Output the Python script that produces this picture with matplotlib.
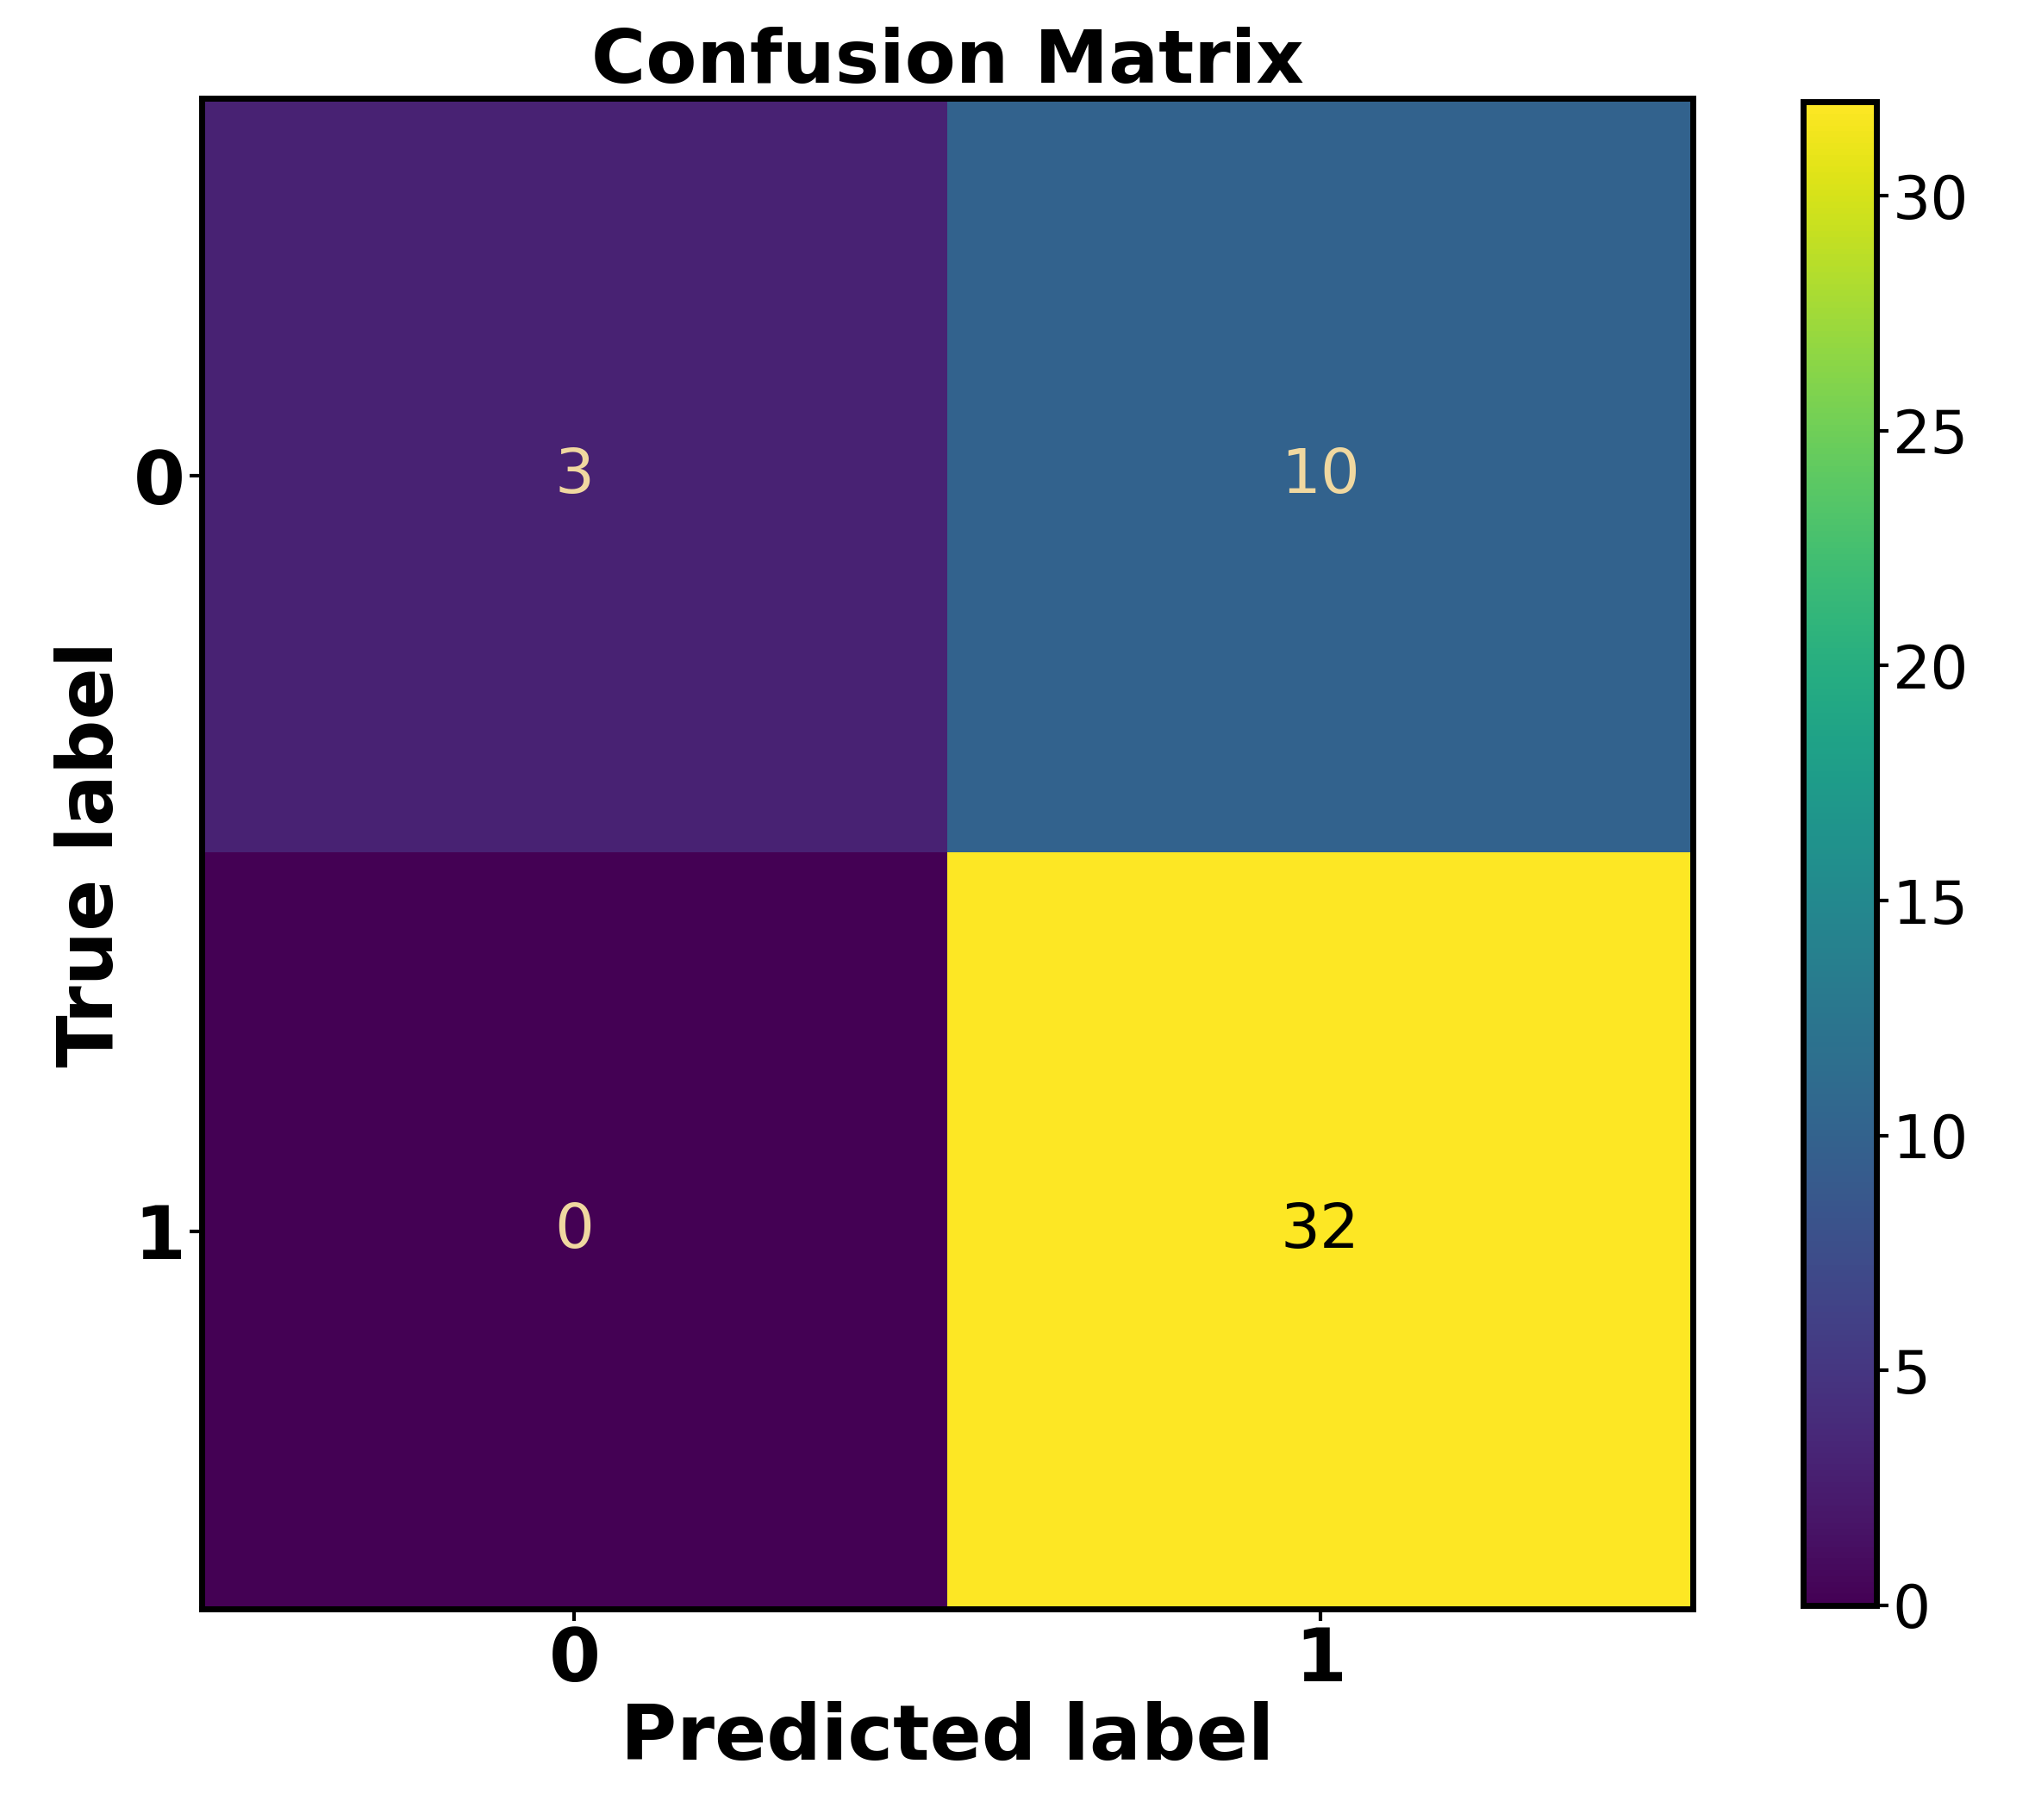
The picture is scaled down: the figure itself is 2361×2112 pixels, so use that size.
import numpy as np
import matplotlib.pyplot as plt

labels = ["0", "1"]
cm = np.array([[3, 10],
               [0, 32]])

fig = plt.figure(figsize=(23.61, 21.12), dpi=100)
ax = fig.add_axes([0.099, 0.116, 0.733, 0.83])
cax = fig.add_axes([0.886, 0.118, 0.036, 0.826])

im = ax.imshow(cm, cmap="viridis", vmin=0, vmax=cm.max(), aspect="auto")
for i in range(2):
    for j in range(2):
        col = "black" if cm[i, j] > 20 else "#f0d8a0"
        ax.text(j, i, str(cm[i, j]), ha="center", va="center", fontsize=52, color=col)

ax.set_xticks(range(2))
ax.set_yticks(range(2))
ax.set_xticklabels(labels, fontsize=62, fontweight="bold")
ax.set_yticklabels(labels, fontsize=62, fontweight="bold")
ax.tick_params(length=10, width=3)
ax.set_xlabel("Predicted label", fontsize=64, fontweight="bold")
ax.set_ylabel("True label", fontsize=64, fontweight="bold")
ax.set_title("Confusion Matrix", fontsize=62, fontweight="bold", pad=8)
for s in ax.spines.values():
    s.set_linewidth(5)

cb = fig.colorbar(im, cax=cax)
cb.set_ticks([0, 5, 10, 15, 20, 25, 30])
cb.ax.tick_params(labelsize=50, length=10, width=3)
cb.outline.set_linewidth(5)

fig.savefig("out.png")
